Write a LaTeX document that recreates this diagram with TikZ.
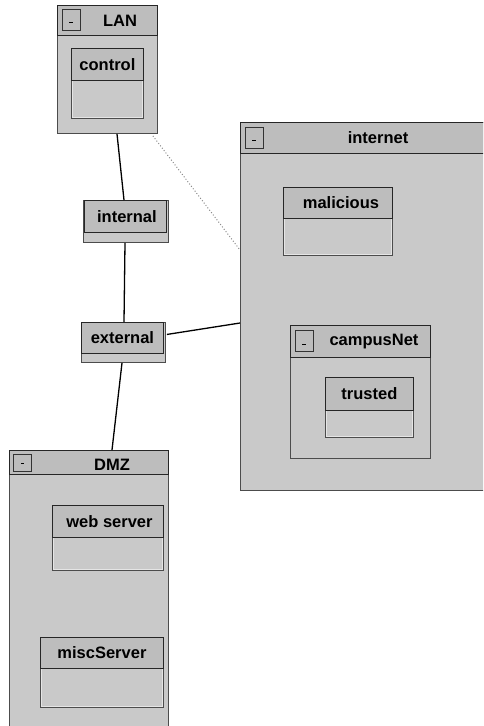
\documentclass[tikz,border=0pt]{standalone}
\usepackage{fontspec}
\setmainfont{Liberation Sans}
\usetikzlibrary{calc}
\definecolor{paneGray}{gray}{0.79}
\definecolor{barGray}{gray}{0.74}
\begin{document}
\begin{tikzpicture}[x=1pt,y=-1pt,
  pane/.style={draw=black!70,fill=paneGray,line width=0.9pt,inner sep=0pt,anchor=north west},
  bar/.style={draw=black!85,fill=barGray,line width=0.9pt,inner sep=0pt,anchor=north west,
              font=\bfseries\fontsize{16.5}{18}\selectfont,text=black},
  lbl/.style={font=\bfseries\fontsize{16.5}{18}\selectfont,inner sep=0pt,text=black},
  btn/.style={draw=black!80,fill=barGray,line width=0.9pt,inner sep=0pt,anchor=north west,
              minimum width=18pt,minimum height=21pt},
  inset/.style={draw=white!90!black,line width=0.8pt},
  wire/.style={draw=black,line width=1.3pt},
  faint/.style={draw=black!45,line width=1pt,dotted},
]
\useasboundingbox (0,0) rectangle (483,726);
\clip (0,0) rectangle (483,726);
\fill[white] (0,0) rectangle (483,726);

% ---- LAN pane ----
\node[pane,minimum width=100pt,minimum height=128pt] (lan) at (57,5) {};
\node[bar,minimum width=100pt,minimum height=30pt] (lanbar) at (57,5) {};
\node[btn] (lanbtn) at (62,9) {};
\draw[line width=0.9pt] ($(lanbtn.center)+(-2,2)$) -- ($(lanbtn.center)+(2,2)$);
\node[lbl] (lantitle) at (120,21) {LAN};
\node[pane,minimum width=72pt,minimum height=70pt] (control) at (71,48) {};
\draw[inset] ($(control.north west)+(1.8,1.8)$) rectangle ($(control.south east)+(-1.8,-1.8)$);
\node[bar,minimum width=72pt,minimum height=32pt] (controlbar) at (71,48) {control};

% ---- gateway interfaces ----
\node[pane,minimum width=85pt,minimum height=42pt] (internal) at (83,200) {};
\node[bar,minimum width=82pt,minimum height=32pt] (internalbar) at (84,200) {\hspace{3pt}internal};
\node[pane,minimum width=84pt,minimum height=40pt] (external) at (81,322) {};
\node[bar,minimum width=82pt,minimum height=31pt] (externalbar) at (81,322) {external};

% ---- internet pane ----
\node[pane,minimum width=260pt,minimum height=368pt] (internet) at (240,122) {};
\node[bar,minimum width=260pt,minimum height=31pt] (internetbar) at (240,122) {};
\node[btn] (internetbtn) at (245,127) {};
\draw[line width=0.9pt] ($(internetbtn.center)+(-2,2)$) -- ($(internetbtn.center)+(2,2)$);
\node[lbl] (internettitle) at (378,138) {internet};

\node[pane,minimum width=109pt,minimum height=68pt] (malicious) at (283,187) {};
\draw[inset] ($(malicious.north west)+(1.8,1.8)$) rectangle ($(malicious.south east)+(-1.8,-1.8)$);
\node[bar,minimum width=109pt,minimum height=31pt] (maliciousbar) at (283,187) {\hspace{6pt}malicious};

\node[pane,minimum width=140pt,minimum height=133pt] (campus) at (290,325) {};
\node[bar,minimum width=140pt,minimum height=32pt] (campusbar) at (290,325) {};
\node[btn] (campusbtn) at (295,330) {};
\draw[line width=0.9pt] ($(campusbtn.center)+(-2,3)$) -- ($(campusbtn.center)+(2,3)$);
\node[lbl] (campustitle) at (374,342) {campusNet};

\node[pane,minimum width=88pt,minimum height=60pt] (trusted) at (325,377) {};
\draw[inset] ($(trusted.north west)+(1.8,1.8)$) rectangle ($(trusted.south east)+(-1.8,-1.8)$);
\node[bar,minimum width=88pt,minimum height=33pt] (trustedbar) at (325,377) {trusted};

% ---- DMZ pane ----
\node[pane,minimum width=159pt,minimum height=290pt] (dmz) at (9,450) {};
\node[bar,minimum width=159pt,minimum height=24pt] (dmzbar) at (9,450) {};
\node[btn,minimum height=17pt,minimum width=18pt] (dmzbtn) at (13,454) {};
\draw[line width=0.9pt] ($(dmzbtn.center)+(-1.5,0)$) -- ($(dmzbtn.center)+(1.5,0)$);
\node[lbl] (dmztitle) at (112,465) {DMZ};

\node[pane,minimum width=111pt,minimum height=65pt] (web) at (52,505) {};
\draw[inset] ($(web.north west)+(1.8,1.8)$) rectangle ($(web.south east)+(-1.8,-1.8)$);
\node[bar,minimum width=111pt,minimum height=32pt] (webbar) at (52,505) {\hspace{3pt}web server};

\node[pane,minimum width=123pt,minimum height=70pt] (misc) at (40,637) {};
\draw[inset] ($(misc.north west)+(1.8,1.8)$) rectangle ($(misc.south east)+(-1.8,-1.8)$);
\node[bar,minimum width=123pt,minimum height=31pt] (miscbar) at (40,637) {miscServer};

% ---- links ----
\draw[wire] ($(lan.south west)+(60,0)$) -- ($(internal.north west)+(41,0)$);
\draw[wire] ($(internal.south west)+(42,0)$) -- ($(external.north west)+(43,0)$);
\draw[wire] ($(external.east)+(1,-8)$) -- ($(internet.north west)+(0,201)$);
\draw[wire] ($(external.south west)+(41,0)$) -- ($(dmz.north west)+(103,0)$);
\draw[faint] ($(lan.south east)+(-5,2)$) -- ($(internet.north west)+(0,128)$);
\end{tikzpicture}
\end{document}
